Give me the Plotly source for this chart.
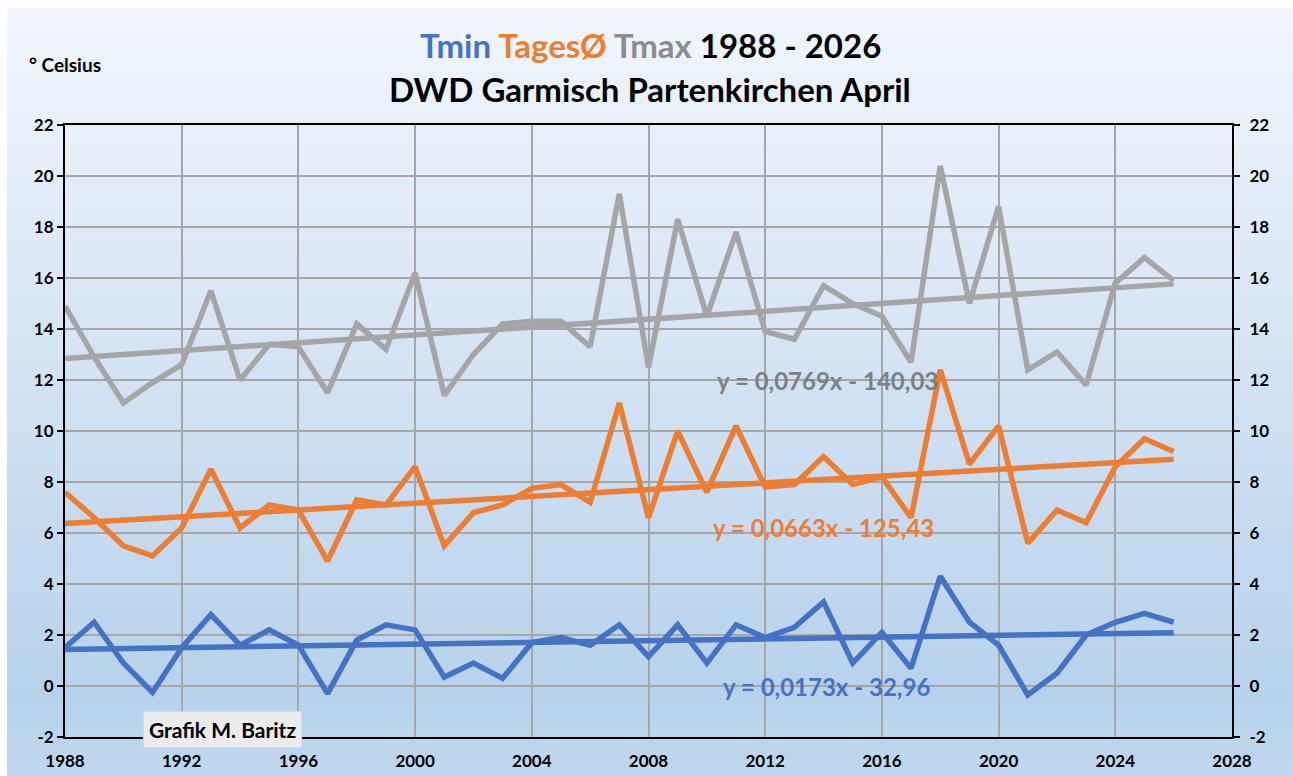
import plotly.graph_objects as go

# ---------------- data ----------------
years = list(range(1988, 2027))
tmin = [1.5, 2.5, 0.9, -0.25, 1.5, 2.8, 1.6, 2.2, 1.6, -0.3,
        1.8, 2.4, 2.2, 0.35, 0.9, 0.3, 1.7, 1.9, 1.6, 2.4,
        1.15, 2.4, 0.9, 2.4, 1.9, 2.3, 3.3, 0.9, 2.1, 0.7,
        4.3, 2.5, 1.6, -0.35, 0.5, 2.0, 2.5, 2.85, 2.5]
tmean = [7.6, 6.6, 5.5, 5.1, 6.2, 8.5, 6.2, 7.1, 6.9, 4.9,
         7.3, 7.1, 8.6, 5.5, 6.8, 7.1, 7.75, 7.9, 7.2, 11.1,
         6.6, 10.0, 7.6, 10.2, 7.8, 7.9, 9.0, 7.9, 8.2, 6.6,
         12.4, 8.7, 10.2, 5.6, 6.9, 6.4, 8.6, 9.7, 9.2]
tmax = [14.9, 12.9, 11.1, 11.9, 12.6, 15.5, 12.0, 13.4, 13.3, 11.5,
        14.2, 13.2, 16.2, 11.4, 13.0, 14.2, 14.3, 14.3, 13.3, 19.3,
        12.5, 18.3, 14.5, 17.8, 13.9, 13.6, 15.7, 15.0, 14.5, 12.7,
        20.4, 15.0, 18.8, 12.4, 13.1, 11.8, 15.8, 16.8, 15.9]

# trend line coefficients as printed on the chart (Tmin, TagesØ, Tmax)
trend_slopes = [0.0173, 0.0663, 0.0769]
trend_intercepts = [-32.96, -125.43, -140.03]
trend_labels = ["y = 0,0173x - 32,96", "y = 0,0663x - 125,43", "y = 0,0769x - 140,03"]

x_ticks = list(range(1988, 2029, 4))
y_ticks = list(range(-2, 23, 2))
y_ticktext = [str(v) for v in y_ticks]

# ---------------- style ----------------
BLUE = "#4472c4"
ORANGE = "#ed7d31"
GREY = "#a5a5a5"
FONT = "Lato"
W, H = 1293, 776
ML, MT, MR, MB = 65, 125, 61, 39
PW, PH = W - ML - MR, H - MT - MB

def sx(px):   # pixel x -> paper
    return (px - ML) / PW

def sy(py):   # pixel y -> paper
    return (H - MB - py) / PH

fig = go.Figure()

series = [(tmin, BLUE), (tmean, ORANGE), (tmax, GREY)]
for i, (vals, col) in enumerate(series):
    fig.add_trace(go.Scatter(x=years, y=vals, mode="lines",
                             line=dict(color=col, width=5.5), showlegend=False))
    trend = [trend_slopes[i] * yr + trend_intercepts[i] for yr in years]
    fig.add_trace(go.Scatter(x=[years[0], years[-1]],
                             y=[trend[0], trend[-1]], mode="lines",
                             line=dict(color=col, width=5.5), showlegend=False))

# invisible trace to activate right axis
fig.add_trace(go.Scatter(x=years, y=tmean, yaxis="y2", mode="lines",
                         line=dict(width=0), opacity=0, showlegend=False,
                         hoverinfo="skip"))

# ---------------- background gradient ----------------
stops = [(8, (241, 246, 252)), (250, (222, 233, 246)), (500, (200, 220, 240)),
         (700, (183, 210, 235)), (776, (192, 216, 238))]

def col_at(py):
    for (p0, c0), (p1, c1) in zip(stops[:-1], stops[1:]):
        if p0 <= py <= p1:
            t = (py - p0) / (p1 - p0)
            return "rgb(%d,%d,%d)" % tuple(round(a + (b - a) * t) for a, b in zip(c0, c1))
    return "rgb(%d,%d,%d)" % stops[-1][1]

shapes = []
step = 8
py = 8
while py < H:
    shapes.append(dict(type="rect", xref="paper", yref="paper", layer="below",
                       x0=sx(7), x1=sx(W + 2),
                       y0=sy(min(py + step + 1, H + 2)), y1=sy(py),
                       fillcolor=col_at(py + step / 2), line=dict(width=0)))
    py += step

tick_font = dict(family=FONT, size=17, color="black", weight="bold")

annotations = [
    dict(text="<span style='color:%s'>Tmin</span> <span style='color:%s'>TagesØ</span> "
              "<span style='color:#8c8c8c'>Tmax</span> 1988 - 2026" % (BLUE, ORANGE),
         xref="paper", yref="paper", x=sx(650), y=sy(45), xanchor="center", yanchor="middle",
         showarrow=False, font=dict(family=FONT, size=33, color="black", weight="bold")),
    dict(text="DWD Garmisch Partenkirchen April",
         xref="paper", yref="paper", x=sx(650), y=sy(89), xanchor="center", yanchor="middle",
         showarrow=False, font=dict(family=FONT, size=33, color="black", weight="bold")),
    dict(text="° Celsius", xref="paper", yref="paper", x=sx(27), y=sy(65),
         xanchor="left", yanchor="middle", showarrow=False,
         font=dict(family=FONT, size=19, color="black", weight="bold")),
    dict(text="Grafik M. Baritz", xref="paper", yref="paper",
         x=sx(222), y=sy(729), xanchor="center", yanchor="middle", showarrow=False,
         bgcolor="#ebebeb", borderpad=5, bordercolor="#dadada", borderwidth=1,
         font=dict(family=FONT, size=21, color="black", weight="bold")),
]
label_pos = [(2014.1, 0.0), (2014.0, 6.2), (2014.15, 12.0)]
label_cols = [BLUE, ORANGE, "#7f7f7f"]
for i in range(3):
    annotations.append(dict(text=trend_labels[i], x=label_pos[i][0], y=label_pos[i][1],
                            xref="x", yref="y", xanchor="center", yanchor="middle",
                            showarrow=False,
                            font=dict(family=FONT, size=24, color=label_cols[i], weight="bold")))

fig.update_layout(
    width=W, height=H,
    margin=dict(l=ML, r=MR, t=MT, b=MB, autoexpand=False),
    paper_bgcolor="white", plot_bgcolor="rgba(0,0,0,0)",
    shapes=shapes, annotations=annotations,
    xaxis=dict(range=[1988, 2028], tickvals=x_ticks, ticks="", showgrid=True,
               gridcolor="#a6a6a6", gridwidth=1.5, showline=True, linecolor="black",
               linewidth=2, mirror=True, tickfont=tick_font, zeroline=False,
               ticklabelstandoff=8, automargin=False),
    yaxis=dict(range=[-2, 22], tickvals=y_ticks, ticktext=y_ticktext, ticks="outside",
               ticklen=6, tickcolor="black", tickwidth=2, showgrid=True,
               gridcolor="#a6a6a6", gridwidth=1.5, showline=True, linecolor="black",
               linewidth=2, tickfont=tick_font, zeroline=False, automargin=False),
    yaxis2=dict(range=[-2, 22], tickvals=y_ticks, ticktext=y_ticktext, ticks="outside",
                ticklen=6, tickcolor="black", tickwidth=2, overlaying="y", side="right",
                showgrid=False, showline=True, linecolor="black", linewidth=2,
                tickfont=tick_font, zeroline=False, ticklabelstandoff=6, automargin=False),
)

fig.write_html("out.html", config={"displayModeBar": False},
               post_script="document.body.style.margin='0';"
                           "document.body.style.overflow='hidden';")
